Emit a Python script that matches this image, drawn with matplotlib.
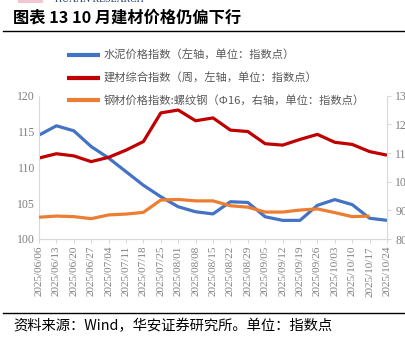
import matplotlib
matplotlib.use("Agg")
import matplotlib.pyplot as plt
from matplotlib.lines import Line2D
from matplotlib.patches import Rectangle

plt.rcParams['font.family'] = ['Noto Sans CJK SC', 'DejaVu Sans']

# ---------------- 数据 ----------------
dates = ["2025/06/06", "2025/06/13", "2025/06/20", "2025/06/27", "2025/07/04",
         "2025/07/11", "2025/07/18", "2025/07/25", "2025/08/01", "2025/08/08",
         "2025/08/15", "2025/08/22", "2025/08/29", "2025/09/05", "2025/09/12",
         "2025/09/19", "2025/09/26", "2025/10/03", "2025/10/10", "2025/10/17",
         "2025/10/24"]

# 水泥价格指数（左轴）
cement = [114.5, 115.8, 115.1, 112.9, 111.3, 109.4, 107.5, 105.9, 104.5, 103.8,
          103.5, 105.2, 105.1, 103.1, 102.6, 102.6, 104.7, 105.5, 104.8, 102.9,
          102.6]
# 建材综合指数（周，左轴）
building = [111.3, 111.9, 111.6, 110.8, 111.4, 112.4, 113.6, 117.6, 118.0, 116.5,
            116.9, 115.2, 115.0, 113.3, 113.1, 113.9, 114.6, 113.5, 113.2, 112.2,
            111.7]
# 钢材价格指数:螺纹钢（Φ16，右轴）
rebar = [87.6, 88.0, 87.8, 87.1, 88.4, 88.7, 89.3, 93.6, 93.8, 93.3,
         93.3, 91.6, 91.1, 89.4, 89.4, 90.1, 90.5, 89.2, 87.8, 88.0]

labels = ["水泥价格指数（左轴，单位：指数点）",
          "建材综合指数（周，左轴，单位：指数点）",
          "钢材价格指数:螺纹钢（Φ16，右轴，单位：指数点）"]
left_ticks = [100, 105, 110, 115, 120]
right_ticks = [80, 90, 100, 110, 120, 130]

c_blue, c_red, c_orange = "#4472C4", "#C00000", "#ED7D31"
grey_txt = "#7f7f7f"
spine_c = "#d9d9d9"
num_font = ["Liberation Serif", "DejaVu Serif"]

# ---------------- 画图 ----------------
fig = plt.figure(figsize=(4.06, 3.43), dpi=100)
ax = fig.add_axes([39 / 406, 1 - 239 / 343, (387 - 39) / 406, (239 - 95.7) / 343])
ax2 = ax.twinx()

x = list(range(len(dates)))
l1, = ax.plot(x, cement, color=c_blue, lw=2.3, solid_capstyle="butt")
l2, = ax.plot(x, building, color=c_red, lw=2.3, solid_capstyle="butt")
l3, = ax2.plot(x[:len(rebar)], rebar, color=c_orange, lw=2.3, solid_capstyle="butt")

ax.set_xlim(0, len(dates) - 1)
ax.set_ylim(100, 120)
ax2.set_ylim(80, 130)
ax.set_yticks(left_ticks)
ax2.set_yticks(right_ticks)
ax.set_xticks(x)
ax.set_xticklabels(dates, rotation=90, family=num_font, fontsize=8, color=grey_txt)
for t in ax.get_yticklabels():
    t.set_family(num_font)
for t in ax2.get_yticklabels():
    t.set_family(num_font)
ax.tick_params(axis="y", labelsize=8.5, colors=grey_txt, length=0, pad=3)
ax.tick_params(axis="x", length=3, color=spine_c, pad=2)
ax2.tick_params(axis="y", labelsize=8.5, colors=grey_txt, length=3, color=spine_c, pad=3)

for a in (ax, ax2):
    a.spines["top"].set_visible(False)
    for s in ("left", "right", "bottom"):
        a.spines[s].set_color(spine_c)
ax.spines["right"].set_visible(False)
ax2.spines["left"].set_visible(False)

leg = fig.legend([l1, l2, l3], labels, loc="upper left",
                 bbox_to_anchor=(67 / 406, 1 - 50 / 343), frameon=False,
                 fontsize=8.1, handlelength=2.9, handletextpad=0.35,
                 labelspacing=1.0, borderaxespad=0, borderpad=0)
for t in leg.get_texts():
    t.set_color("#595959")
for h in leg.legend_handles:
    h.set_linewidth(3)

# 标题与页眉
fig.add_artist(Rectangle((18 / 406, 1 - 3 / 343), 25 / 406, 3 / 343,
                         transform=fig.transFigure, color="#f4c7cf", lw=0))
fig.text(55 / 406, 1.0, "HUAAN RESEARCH", fontsize=7, family=num_font,
         color="#1f3864", va="center", ha="left")
fig.text(13 / 406, 1 - 18 / 343, "图表 13 10 月建材价格仍偏下行", fontsize=11.7,
         fontweight="bold", va="center", ha="left")
fig.add_artist(Line2D([3 / 406, 1], [1 - 30.7 / 343] * 2, transform=fig.transFigure,
                      color="black", lw=1))
fig.add_artist(Line2D([3 / 406, 1], [1 - 312.5 / 343] * 2, transform=fig.transFigure,
                      color="black", lw=1))
fig.text(13 / 406, 1 - 326 / 343, "资料来源：Wind，华安证券研究所。单位：指数点",
         fontsize=10.3, va="center", ha="left")

fig.savefig("out.png", dpi=100)
